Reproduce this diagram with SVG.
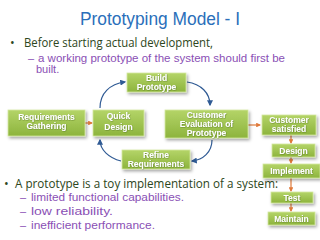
<svg xmlns="http://www.w3.org/2000/svg" width="320" height="240" viewBox="0 0 320 240">
<defs>
<linearGradient id="g" x1="0" y1="0" x2="0" y2="1">
<stop offset="0" stop-color="#b4d468"/>
<stop offset="1" stop-color="#8db43d"/>
</linearGradient>
<filter id="sh" x="-20%" y="-30%" width="150%" height="180%">
<feDropShadow dx="1.5" dy="2" stdDeviation="1.5" flood-color="#000" flood-opacity="0.35"/>
</filter>
<filter id="ts" x="-10%" y="-20%" width="120%" height="150%">
<feDropShadow dx="0.5" dy="0.5" stdDeviation="0.2" flood-color="#4d6a1a" flood-opacity="0.7"/>
</filter>
<marker id="ab" viewBox="0 0 10 10" refX="8" refY="5" markerWidth="5" markerHeight="5" orient="auto">
<path d="M0,0 L10,5 L0,10 z" fill="#2f5a94"/>
</marker>
<marker id="ao" viewBox="0 0 10 10" refX="8" refY="5" markerWidth="4" markerHeight="4" orient="auto">
<path d="M0,0 L10,5 L0,10 z" fill="#e07a3a"/>
</marker>
</defs>
<style>
.box{fill:url(#g);stroke:#d4e8a0;stroke-width:0.8;filter:url(#sh)}
.bt{font-family:"Liberation Sans",Arial,sans-serif;font-weight:bold;font-size:8.5px;fill:#fff;text-anchor:middle;filter:url(#ts)}
.blue{fill:none;stroke:#2f5a94;stroke-width:1.2;marker-end:url(#ab)}
.or{fill:none;stroke:#e07a3a;stroke-width:1.2;marker-end:url(#ao)}
.b1{font-family:"Open Sans","Liberation Sans",sans-serif;font-size:12.5px;fill:#2d4620}
.b2{font-family:"Liberation Sans",sans-serif;font-size:11px;fill:#8a4fb5}
</style>
<rect width="320" height="240" fill="#fff"/>
<text x="160" y="25" text-anchor="middle" font-family="'Liberation Sans',sans-serif" font-size="18" fill="#2a6fba" textLength="160" lengthAdjust="spacingAndGlyphs">Prototyping Model - I</text>
<text class="b1" x="10" y="47">•</text>
<text class="b1" x="24" y="47" textLength="189" lengthAdjust="spacingAndGlyphs">Before  starting actual development,</text>
<text class="b2" x="28" y="62">–</text>
<text class="b2" x="38" y="62" textLength="247" lengthAdjust="spacingAndGlyphs">a working prototype of the system should first be</text>
<text class="b2" x="36" y="73">built.</text>

<g id="connectors">
<path class="blue" d="M100,108 C100,93 110,84 125,82"/>
<path class="blue" d="M187,82 C201,84 210,93 210,105"/>
<path class="blue" d="M212,140 C212,152 203,160 192,161"/>
<path class="blue" d="M121,161 C109,158 100,150 100,140"/>
<path class="or" d="M85,123 L92,123"/>
<path class="or" d="M248,125 L260,125"/>
<path class="or" d="M291,135 L291,143"/>
<path class="or" d="M291,157 L291,163"/>
<path class="or" d="M291,178 L291,191"/>
<path class="or" d="M291,203 L291,211"/>
</g>

<g id="build"><rect class="box" x="127" y="73" width="59" height="19"/><text class="bt" x="156.5" y="81">Build</text><text class="bt" x="156.5" y="90">Prototype</text></g>
<g id="req"><rect class="box" x="8" y="110" width="77" height="26"/><text class="bt" x="46.5" y="119.5" font-size="9">Requirements</text><text class="bt" x="46.5" y="129">Gathering</text></g>
<g id="quick"><rect class="box" x="93" y="110" width="51" height="26"/><text class="bt" x="118.5" y="119">Quick</text><text class="bt" x="118.5" y="129.5">Design</text></g>
<g id="eval"><rect class="box" x="165" y="110" width="83" height="28"/><text class="bt" x="206.5" y="118">Customer</text><text class="bt" x="206.5" y="127">Evaluation of</text><text class="bt" x="206.5" y="136">Prototype</text></g>
<g id="sat"><rect class="box" x="262" y="115" width="54" height="20"/><text class="bt" x="289" y="123">Customer</text><text class="bt" x="289" y="132">satisfied</text></g>
<g id="design"><rect class="box" x="272" y="144" width="43" height="13"/><text class="bt" x="293.5" y="153.5">Design</text></g>
<g id="impl"><rect class="box" x="263" y="164" width="57" height="14"/><text class="bt" x="291.5" y="174">Implement</text></g>
<g id="test"><rect class="box" x="271" y="192" width="42" height="11"/><text class="bt" x="292" y="200.5">Test</text></g>
<g id="maint"><rect class="box" x="268" y="212" width="47" height="13"/><text class="bt" x="291.5" y="221.5">Maintain</text></g>
<g id="refine"><rect class="box" x="122" y="150" width="68" height="19"/><text class="bt" x="156" y="158">Refine</text><text class="bt" x="156" y="167">Requirements</text></g>

<text class="b1" x="4" y="188">•</text>
<text class="b1" x="15" y="188" textLength="263" lengthAdjust="spacingAndGlyphs">A prototype is a toy implementation of a system:</text>
<text class="b2" x="20" y="201">–</text>
<text class="b2" x="31" y="201" textLength="153" lengthAdjust="spacingAndGlyphs">limited functional capabilities.</text>
<text class="b2" x="20" y="215">–</text>
<text class="b2" x="31" y="215" textLength="82" lengthAdjust="spacingAndGlyphs">low reliability.</text>
<text class="b2" x="20" y="229">–</text>
<text class="b2" x="31" y="229" textLength="124" lengthAdjust="spacingAndGlyphs">inefficient performance.</text>
</svg>
